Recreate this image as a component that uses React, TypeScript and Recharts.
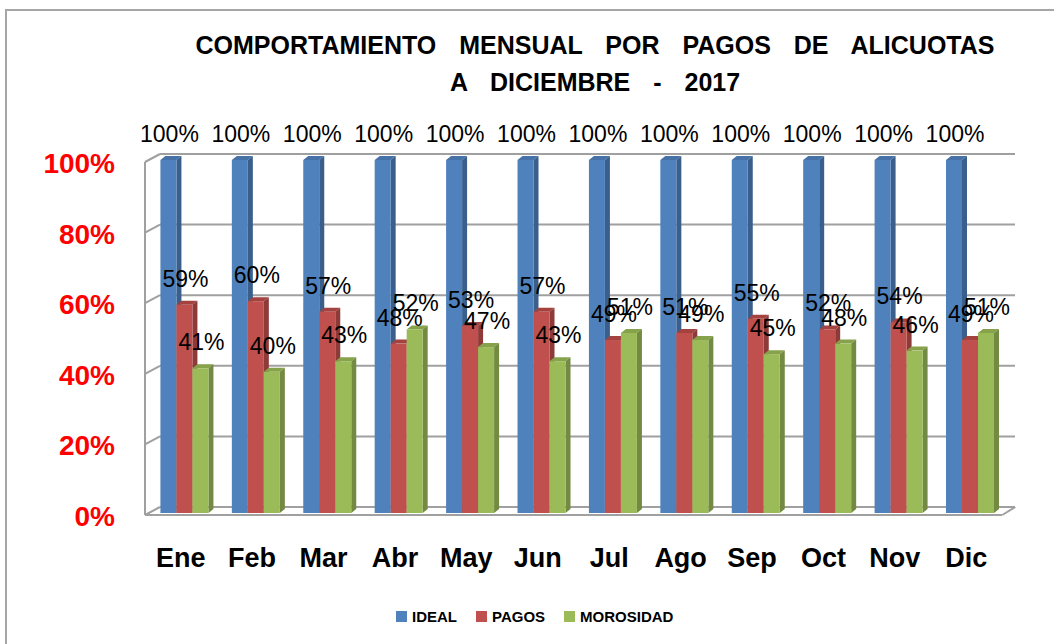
import { BarChart, Bar, XAxis, YAxis, CartesianGrid, LabelList } from 'recharts';

const MONTHS = ['Ene', 'Feb', 'Mar', 'Abr', 'May', 'Jun', 'Jul', 'Ago', 'Sep', 'Oct', 'Nov', 'Dic'];
const IDEAL = [100, 100, 100, 100, 100, 100, 100, 100, 100, 100, 100, 100];
const PAGOS = [59, 60, 57, 48, 53, 57, 49, 51, 55, 52, 54, 49];
const MOROSIDAD = [41, 40, 43, 52, 47, 43, 51, 49, 45, 48, 46, 51];
const Y_TICKS = [0, 20, 40, 60, 80, 100];

const SERIES = [
  { key: 'ideal', name: 'IDEAL', front: '#4f81bd', side: '#3a5f8c', top: '#4672a8' },
  { key: 'pagos', name: 'PAGOS', front: '#c0504d', side: '#8e3a38', top: '#a3423f' },
  { key: 'morosidad', name: 'MOROSIDAD', front: '#9bbb59', side: '#728a41', top: '#86a34c' },
];

const FONT = '"Liberation Sans", Arial, sans-serif';
const GRID = '#a0a0a0';
const DX = 5;
const DY = 4;

const data = MONTHS.map((m, i) => ({
  month: m,
  ideal: IDEAL[i],
  pagos: PAGOS[i],
  morosidad: MOROSIDAD[i],
}));

// fake 3D column: front face + darker right side + top face
function make3DBar(s: typeof SERIES[number]) {
  return (props: any) => {
    const { x, y, width, height } = props;
    if (!height) return <g />;
    const r = x + width;
    const b = y + height;
    return (
      <g>
        <path d={`M${x},${y} L${x + DX},${y - DY} L${r + DX},${y - DY} L${r},${y} Z`} fill={s.top} />
        <path d={`M${r},${y} L${r + DX},${y - DY} L${r + DX},${b - DY} L${r},${b} Z`} fill={s.side} />
        <rect x={x} y={y} width={width} height={height} fill={s.front} />
      </g>
    );
  };
}

const renderLabel = (props: any) => {
  const { x, y, width, value } = props;
  return (
    <text x={x + width / 2 + 1} y={y - 18} textAnchor="middle" fontSize={23} fontFamily={FONT} fill="#000">
      {value}%
    </text>
  );
};

// back wall line (pushed back 6px) with the diagonal on the side wall
const GridLine = (p: any) => {
  const { x1, x2, y1 } = p;
  const yb = y1 - 6;
  return (
    <g>
      <line x1={x1} x2={x2} y1={yb} y2={yb} stroke={GRID} strokeWidth={2} />
      <line x1={x1 - 15} y1={yb + 8} x2={x1} y2={yb} stroke={GRID} strokeWidth={2} />
    </g>
  );
};

const YTick = ({ x, y, payload }: any) => (
  <text x={x - 34} y={y + 13} textAnchor="end" fontSize={28} fontWeight="bold" fontFamily={FONT} fill="#ff0000">
    {payload.value}%
  </text>
);

const XTick = ({ x, y, payload, index }: any) => (
  <g>
    <text x={x - 4} y={y + 54} textAnchor="middle" fontSize={27} fontWeight="bold" fontFamily={FONT} fill="#000">
      {payload.value}
    </text>
    {/* floor corner at the right end */}
    {index === MONTHS.length - 1 && (
      <line x1={x + 32} y1={y + 2} x2={x + 45} y2={y - 6} stroke={GRID} strokeWidth={2} />
    )}
  </g>
);

export default function App() {
  return (
    <div style={{ position: 'absolute', left: 0, top: 0, width: 1054, height: 644, overflow: 'hidden', background: '#fff', fontFamily: FONT }}>
      <div style={{ position: 'absolute', left: 5, top: 9, width: 1100, height: 700, border: '2px solid #a6a6a6' }} />

      <div style={{ position: 'absolute', left: 95, top: 28, width: 1000, textAlign: 'center', fontSize: 25, lineHeight: '34px', fontWeight: 'bold', wordSpacing: 16, whiteSpace: 'pre' }}>
        COMPORTAMIENTO MENSUAL POR PAGOS DE ALICUOTAS
      </div>
      <div style={{ position: 'absolute', left: 95, top: 65, width: 1000, textAlign: 'center', fontSize: 25, lineHeight: '34px', fontWeight: 'bold', wordSpacing: 16, whiteSpace: 'pre' }}>
        A DICIEMBRE - 2017
      </div>

      <BarChart
        width={1054}
        height={644}
        data={data}
        margin={{ top: 160, right: 48, bottom: 71, left: 49 }}
        barCategoryGap="16%"
        barGap={0}
      >
        <CartesianGrid
          vertical={false}
          x={160}
          width={855}
          horizontal={(p: any) => <GridLine key={p.key} {...p} />}
        />
        <XAxis
          dataKey="month"
          height={60}
          tickSize={0}
          tickMargin={0}
          tickLine={false}
          axisLine={{ stroke: GRID, strokeWidth: 2, transform: 'translate(-4 2)' }}
          tick={<XTick />}
          interval={0}
        />
        <YAxis
          domain={[0, 100]}
          ticks={Y_TICKS}
          width={100}
          tickSize={0}
          tickMargin={0}
          tickLine={false}
          axisLine={{ stroke: GRID, strokeWidth: 2, transform: 'translate(-4 2)' }}
          tick={<YTick />}
          interval={0}
        />
        {SERIES.map((s) => (
          <Bar key={s.key} dataKey={s.key} name={s.name} fill={s.front} shape={make3DBar(s)} isAnimationActive={false}>
            <LabelList dataKey={s.key} content={renderLabel} />
          </Bar>
        ))}
      </BarChart>

      <div style={{ position: 'absolute', left: 396, top: 608, display: 'flex', alignItems: 'center', fontSize: 15, fontWeight: 'bold', lineHeight: '17px' }}>
        {SERIES.map((s, i) => (
          <div key={s.key} style={{ display: 'flex', alignItems: 'center', marginLeft: i === 0 ? 0 : 19 }}>
            <span style={{ display: 'inline-block', width: 11, height: 11, background: s.front, marginRight: 5 }} />
            <span>{s.name}</span>
          </div>
        ))}
      </div>
    </div>
  );
}
